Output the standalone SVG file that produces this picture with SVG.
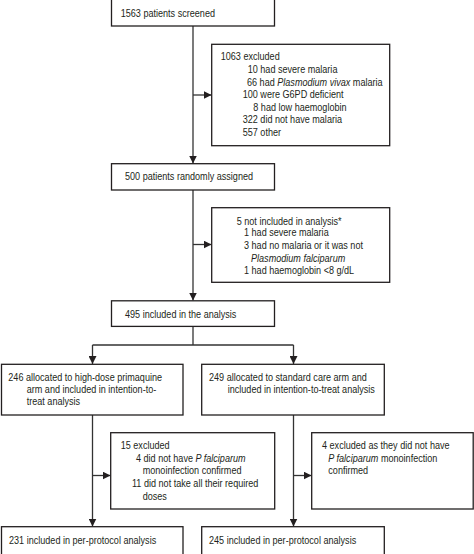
<svg xmlns="http://www.w3.org/2000/svg" width="474" height="554" viewBox="0 0 474 554">
<style>
.box{fill:#fff;stroke:#231f20;stroke-width:1.3}
.t{font-family:"Liberation Sans",Arial,sans-serif;font-size:10.8px;fill:#231f20}
.i{font-style:italic}
.c{fill:none;stroke:#333;stroke-width:1.3}
</style>
<defs>
<marker id="ah" viewBox="0 0 10 10" refX="10" refY="5" markerWidth="8" markerHeight="8" markerUnits="userSpaceOnUse" orient="auto">
<path d="M0,0 L10,5 L0,10 Z" fill="#231f20"/>
</marker>
</defs>
<rect width="474" height="554" fill="#fff"/>
<g id="connectors">
<path class="c" d="M193,26 V163.5" marker-end="url(#ah)"/>
<path class="c" d="M193,95 H211.5" marker-end="url(#ah)"/>
<path class="c" d="M193,190 V300.5" marker-end="url(#ah)"/>
<path class="c" d="M193,244.5 H211.5" marker-end="url(#ah)"/>
<path class="c" d="M193,326.5 V345"/>
<path class="c" d="M92.5,345 H293.5"/>
<path class="c" d="M92.5,345 V364" marker-end="url(#ah)"/>
<path class="c" d="M293.5,345 V364" marker-end="url(#ah)"/>
<path class="c" d="M92.5,415 V526.5" marker-end="url(#ah)"/>
<path class="c" d="M92.5,475.5 H110.5" marker-end="url(#ah)"/>
<path class="c" d="M293.5,415 V526.5" marker-end="url(#ah)"/>
<path class="c" d="M293.5,475.5 H311.5" marker-end="url(#ah)"/>
</g>
<g id="screened">
<rect class="box" x="111.5" y="-1" width="163" height="27"/>
<text class="t" transform="translate(120.7,16.5) scale(0.84,1)">1563 patients screened</text>
</g>
<g id="excluded1">
<rect class="box" x="211.7" y="44.3" width="178" height="101.4"/>
<text class="t" transform="translate(220.7,60.2) scale(0.84,1)">1063 excluded</text>
<text class="t" transform="translate(247.7,73.2) scale(0.84,1)">10 had severe malaria</text>
<text class="t" transform="translate(247,85.5) scale(0.84,1)">66 had <tspan class="i">Plasmodium vivax</tspan> malaria</text>
<text class="t" transform="translate(242.7,98.2) scale(0.84,1)">100 were G6PD deficient</text>
<text class="t" transform="translate(253.3,110.5) scale(0.84,1)">8 had low haemoglobin</text>
<text class="t" transform="translate(242.7,122.8) scale(0.84,1)">322 did not have malaria</text>
<text class="t" transform="translate(242.7,135.5) scale(0.84,1)">557 other</text>
</g>
<g id="randomised">
<rect class="box" x="111.5" y="163.7" width="163" height="26.3"/>
<text class="t" transform="translate(125,180.3) scale(0.84,1)">500 patients randomly assigned</text>
</g>
<g id="notincluded">
<rect class="box" x="211.7" y="207.7" width="178" height="74.6"/>
<text class="t" transform="translate(236.7,224.5) scale(0.84,1)">5 not included in analysis*</text>
<text class="t" transform="translate(244,236.2) scale(0.84,1)">1 had severe malaria</text>
<text class="t" transform="translate(244,249.2) scale(0.84,1)">3 had no malaria or it was not</text>
<text class="t i" transform="translate(251,261.5) scale(0.84,1)">Plasmodium falciparum</text>
<text class="t" transform="translate(244,273.5) scale(0.84,1)">1 had haemoglobin &lt;8 g/dL</text>
</g>
<g id="analysis">
<rect class="box" x="111.5" y="300.8" width="163" height="25.6"/>
<text class="t" transform="translate(125,317.5) scale(0.84,1)">495 included in the analysis</text>
</g>
<g id="highdose">
<rect class="box" x="1.5" y="364.3" width="181.5" height="50.7"/>
<text class="t" transform="translate(8.3,380.5) scale(0.84,1)">246 allocated to high-dose primaquine</text>
<text class="t" transform="translate(26.7,393) scale(0.84,1)">arm and included in intention-to-</text>
<text class="t" transform="translate(26.7,405.3) scale(0.84,1)">treat analysis</text>
</g>
<g id="standard">
<rect class="box" x="201.7" y="364.3" width="182.6" height="50.7"/>
<text class="t" transform="translate(209,380.5) scale(0.84,1)">249 allocated to standard care arm and</text>
<text class="t" transform="translate(227.7,393) scale(0.84,1)">included in intention-to-treat analysis</text>
</g>
<g id="excluded15">
<rect class="box" x="110.7" y="432.7" width="164" height="76.3"/>
<text class="t" transform="translate(120.7,448.5) scale(0.84,1)">15 excluded</text>
<text class="t" transform="translate(136,461.8) scale(0.84,1)">4 did not have <tspan class="i">P falciparum</tspan></text>
<text class="t" transform="translate(142.7,474.2) scale(0.84,1)">monoinfection confirmed</text>
<text class="t" transform="translate(132,486.8) scale(0.84,1)">11 did not take all their required</text>
<text class="t" transform="translate(142.7,499.5) scale(0.84,1)">doses</text>
</g>
<g id="excluded4">
<rect class="box" x="311.7" y="432.7" width="161.5" height="76.3"/>
<text class="t" transform="translate(322,448.5) scale(0.84,1)">4 excluded as they did not have</text>
<text class="t" transform="translate(328.3,461.8) scale(0.84,1)"><tspan class="i">P falciparum</tspan> monoinfection</text>
<text class="t" transform="translate(328.3,474.2) scale(0.84,1)">confirmed</text>
</g>
<g id="pp1">
<rect class="box" x="1.5" y="526.7" width="181.5" height="30"/>
<text class="t" transform="translate(9,543.5) scale(0.84,1)">231 included in per-protocol analysis</text>
</g>
<g id="pp2">
<rect class="box" x="201.7" y="526.7" width="182.6" height="30"/>
<text class="t" transform="translate(209,543.5) scale(0.84,1)">245 included in per-protocol analysis</text>
</g>
</svg>
